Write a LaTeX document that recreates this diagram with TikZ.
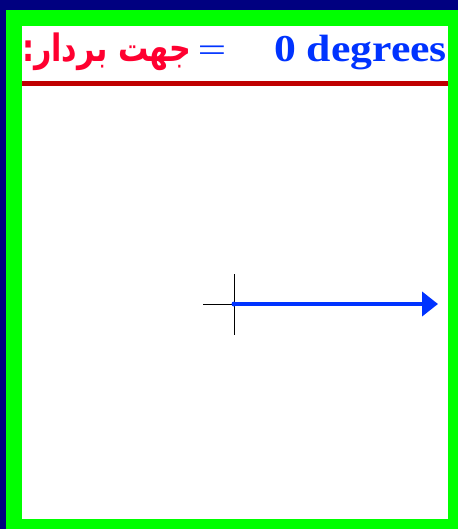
\documentclass[tikz,border=0pt]{standalone}
\usepackage{fontspec}
\usepackage{graphicx}
\setmainfont{Liberation Serif}
\newfontfamily\arabicfont[Script=Arabic]{DejaVu Sans}
\TeXXeTstate=1
\usetikzlibrary{arrows.meta,positioning,calc}
\definecolor{navyback}{HTML}{000080}
\definecolor{framegreen}{HTML}{00FF00}
\definecolor{titlered}{HTML}{FF0030}
\definecolor{rulered}{HTML}{C00000}
\definecolor{vecblue}{HTML}{0033FF}

\begin{document}
\begin{tikzpicture}[x=1pt,y=-1pt,
  lab/.style={inner sep=0pt,anchor=base},
  axis/.style={black,line width=1pt},
  vec/.style={-{Triangle[length=16pt,width=24pt]},line width=4.5pt,vecblue}]
\useasboundingbox (0,0) rectangle (458,529);
\fill[navyback] (0,0) rectangle (458,529);
\fill[framegreen] (6,10) rectangle (458,529);
\fill[white] (22,26) rectangle (448,519);
% title
\node[lab,anchor=base west,text=titlered] (name) at (22,62) {\scalebox{1.04}[1.3]{\arabicfont\bfseries\fontsize{29}{32}\selectfont\beginR جهت بردار:\endR}};
\node[lab,text=vecblue] (eq) at (212,62) {\scalebox{1.5}[1]{\fontsize{34}{36}\selectfont =}};
\node[lab,anchor=base east,text=vecblue] (val) at (447,62) {\scalebox{1.15}[1]{\bfseries\fontsize{38}{40}\selectfont 0 degrees}};
\draw[rulered,line width=5pt] (22,83.5) -- (448,83.5);
% axes and vector
\coordinate (o) at (234,304);
\coordinate (tip) at (438,304);
\draw[axis] (203,304) -- (o);
\draw[axis] (234,274) -- (234,335);
\draw[vec] (o) -- (tip);
\fill[vecblue] (o) circle (2.5pt);
\end{tikzpicture}
\end{document}
